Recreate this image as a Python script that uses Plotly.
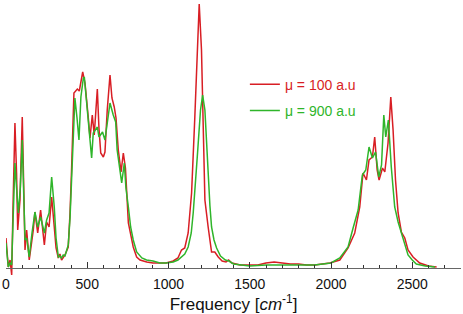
import plotly.graph_objects as go

# Frequency [cm^-1] and intensity (arbitrary units)
red_freq = [0, 14, 25, 35, 43, 55, 65, 72, 86, 100, 108, 117, 127, 143, 168, 178, 195, 213, 236, 250,
            265, 281, 297, 308, 322, 332, 342, 352, 363, 383, 394, 404, 418, 439, 451, 472, 486, 506, 517, 531,
            543, 562, 572, 583, 599, 609, 623, 640, 652, 666, 677, 691, 708, 722, 735, 753, 769, 783, 804, 825,
            866, 905, 947, 985, 1029, 1058, 1080, 1100, 1121, 1142, 1162, 1177, 1189, 1203, 1214, 1224, 1244,
            1265, 1285, 1306, 1330, 1354, 1370, 1390, 1440, 1500, 1550, 1600, 1650, 1700, 1750, 1800, 1850,
            1900, 1950, 1993, 2054, 2105, 2146, 2177, 2197, 2218, 2234, 2255, 2269, 2284, 2296, 2317, 2331,
            2351, 2368, 2382, 2397, 2413, 2433, 2454, 2474, 2505, 2546, 2600, 2650]
red_vals = [30, 1, 8, -7, 60, 145, 95, 38, 68, 151, 90, 18, 38, 8, 38, 56, 35, 58, 23, 46,
            41, 71, 41, 20, 10, 14, 8, 10, 13, 21, 55, 101, 175, 179, 177, 196, 185, 151, 130, 153,
            133, 179, 140, 115, 111, 116, 158, 193, 170, 161, 150, 118, 96, 115, 100, 45, 30, 21, 11, 8,
            6, 5, 5, 5, 7, 10, 18, 20, 35, 75, 151, 218, 264, 218, 135, 68, 41,
            16, 16, 11, 7, 6, 8, 5, 3, 3, 3, 5, 6, 5, 4, 4, 3,
            3, 4, 5, 8, 20, 35, 61, 95, 88, 108, 111, 131, 98, 88, 100, 96,
            125, 171, 138, 88, 55, 36, 30, 18, 11, 5, 2, 1]

green_freq = [0, 14, 25, 35, 43, 55, 65, 76, 88, 100, 108, 117, 127, 143, 160, 178, 195, 213, 236, 250,
              265, 281, 297, 308, 322, 332, 342, 352, 363, 383, 394, 404, 424, 437, 449, 461, 476, 482, 495, 506,
              519, 527, 537, 550, 562, 572, 583, 594, 609, 625, 640, 660, 675, 684, 712, 728, 738, 753, 767, 783,
              804, 836, 865, 905, 947, 985, 1029, 1058, 1080, 1100, 1121, 1140, 1152, 1165, 1177, 1197, 1210,
              1224, 1233, 1244, 1255, 1265, 1280, 1296, 1320, 1350, 1372, 1400, 1450, 1500, 1600, 1700, 1800,
              1900, 1950, 2000, 2054, 2105, 2136, 2167, 2193, 2214, 2234, 2255, 2274, 2294, 2311, 2325, 2337,
              2353, 2371, 2392, 2413, 2443, 2474, 2500, 2525, 2580, 2640]
green_vals = [25, 1, 5, 3, 45, 105, 80, 55, 80, 128, 80, 28, 30, 11, 35, 56, 41, 51, 35, 48,
              55, 91, 61, 30, 11, 12, 10, 13, 12, 23, 50, 91, 170, 150, 128, 171, 190, 191, 165, 150,
              120, 110, 135, 138, 141, 131, 133, 136, 128, 150, 165, 153, 146, 118, 85, 105, 80, 61, 41, 28,
              16, 10, 8, 7, 5, 5, 6, 8, 11, 14, 21, 35, 55, 80, 111, 158, 173,
              158, 130, 91, 62, 41, 28, 20, 12, 8, 7, 4, 3, 2, 3, 3, 3,
              3, 4, 5, 10, 21, 40, 58, 93, 98, 121, 110, 116, 91, 103, 153, 131,
              148, 101, 61, 46, 30, 13, 8, 4, 2, 1]

x_ticks = [0, 500, 1000, 1500, 2000, 2500]
names = ["\u03bc = 100 a.u", "\u03bc = 900 a.u"]
RED = "#d81e24"
GREEN = "#2fb52a"

fig = go.Figure()
fig.add_trace(go.Scatter(x=red_freq, y=red_vals, mode="lines",
                         line=dict(color=RED, width=1.5),
                         name=f"<span style='color:{RED}'>{names[0]}</span>"))
fig.add_trace(go.Scatter(x=green_freq, y=green_vals, mode="lines",
                         line=dict(color=GREEN, width=1.5),
                         name=f"<span style='color:{GREEN}'>{names[1]}</span>"))

fig.update_layout(
    width=463, height=314,
    margin=dict(l=6, r=2, t=0, b=34),
    paper_bgcolor="white", plot_bgcolor="white",
    font=dict(family="Liberation Sans, Arial, sans-serif", size=14, color="#111111"),
    showlegend=True,
    legend=dict(x=0.525, y=0.755, xanchor="left", yanchor="top",
                bgcolor="rgba(0,0,0,0)", tracegroupgap=5,
                font=dict(size=14)),
    xaxis=dict(range=[0, 2800], anchor="free", position=12 / 280,
               showline=True, linecolor="#666666", linewidth=1,
               ticks="inside", ticklen=6, tickcolor="#333333",
               tickvals=x_ticks, showgrid=False, zeroline=False,
               ticklabelstandoff=3,
               minor=dict(ticks="inside", dtick=100, ticklen=3, tickcolor="#333333", showgrid=False),
               title=dict(text="Frequency [<i>cm</i><sup>-1</sup>]", standoff=3)),
    yaxis=dict(range=[-12, 268], visible=False),
)
for i, tr in enumerate(fig.data):
    tr.legendgroup = f"g{i}"

fig.write_html("out.html", config={"displayModeBar": False},
               post_script="document.body.style.margin='0';document.body.style.overflow='hidden';")
